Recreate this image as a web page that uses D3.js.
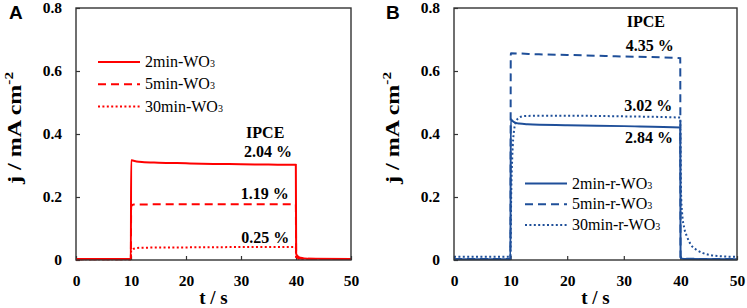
<!DOCTYPE html>
<html><head><meta charset="utf-8">
<script src="https://cdn.jsdelivr.net/npm/d3@7"></script>
<style>
html,body{margin:0;padding:0;background:#fff;}
svg{display:block;}
</style></head>
<body>
<svg id="chart" width="747" height="308"></svg>
<script>
// ---------- data ----------
const xTicks = [0, 10, 20, 30, 40, 50];
const yTicks = [0, 0.2, 0.4, 0.6, 0.8];

// Panel A (WO3)
const tA2  = [0, 9.97, 10.03, 10.5, 11, 12, 15, 20, 25, 30, 35, 39.97, 40.03, 40.3, 40.8, 41.5, 43, 50];
const jA2  = [0.003, 0.003, 0.317, 0.315, 0.313, 0.311, 0.309, 0.307, 0.305, 0.304, 0.303, 0.302, 0.02, 0.012, 0.007, 0.005, 0.004, 0.003];
const tA5  = [0, 9.97, 10.03, 10.5, 20, 30, 39.97, 40.03, 40.5, 41, 50];
const jA5  = [0.002, 0.002, 0.17, 0.176, 0.177, 0.177, 0.177, 0.01, 0.006, 0.004, 0.003];
const tA30 = [0, 9.97, 10.03, 10.5, 12, 20, 30, 39.97, 40.03, 41, 50];
const jA30 = [0.002, 0.002, 0.03, 0.036, 0.039, 0.04, 0.041, 0.041, 0.004, 0.003, 0.003];

// Panel B (r-WO3)
const tB2  = [0, 9.97, 10.03, 10.3, 10.8, 11.5, 13, 20, 30, 39.97, 40.03, 40.3, 41, 50];
const jB2  = [0.002, 0.002, 0.447, 0.442, 0.436, 0.433, 0.431, 0.428, 0.425, 0.421, 0.01, 0.004, 0.003, 0.002];
const tB5  = [0, 9.97, 10.03, 15, 20, 30, 39.97, 40.03, 40.5, 50];
const jB5  = [0.003, 0.003, 0.656, 0.653, 0.651, 0.646, 0.641, 0.008, 0.004, 0.003];
const tB30 = [0, 9.97, 10.1, 10.3, 10.6, 11, 11.5, 12.5, 15, 20, 30, 39.97, 40.1, 40.3, 40.7, 41.2, 41.8, 42.9, 44, 45.2, 47, 50];
const jB30 = [0.01, 0.01, 0.2, 0.33, 0.41, 0.44, 0.452, 0.457, 0.458, 0.458, 0.456, 0.452, 0.22, 0.15, 0.1, 0.073, 0.05, 0.032, 0.022, 0.016, 0.012, 0.01];

const legendA = ["2min-", "5min-", "30min-"];
const legendB = ["2min-r-", "5min-r-", "30min-r-"];
const ipceA = ["2.04 %", "1.19 %", "0.25 %"];
const ipceB = ["4.35 %", "3.02 %", "2.84 %"];

// ---------- drawing ----------
const svg = d3.select("#chart");
const SERIF = "'Liberation Serif','Times New Roman',serif";
const SANS = "'Liberation Sans',Arial,sans-serif";
const dashes = [null, "8,5", "2,2.4"];

function panel(cfg) {
  const x = d3.scaleLinear().domain([0, 50]).range([cfg.left, cfg.right]);
  const y = d3.scaleLinear().domain([0, 0.8]).range([260, 8]);
  const g = svg.append("g");

  // axes
  const ax = g.append("g").attr("transform", `translate(0,${y(0)})`)
    .call(d3.axisBottom(x).tickValues(xTicks).tickSize(-4).tickPadding(15).tickFormat(d3.format("d")));
  const ay = g.append("g").attr("transform", `translate(${x(0)},0)`)
    .call(d3.axisLeft(y).tickValues(yTicks).tickSize(-4).tickPadding(14).tickFormat(d => d === 0 ? "0" : d3.format(".1f")(d)));
  [ax, ay].forEach(a => {
    a.attr("font-family", SERIF).attr("font-size", 15).attr("font-weight", "bold");
    a.select(".domain").remove();
    a.selectAll("line").attr("stroke", "#333").attr("stroke-width", 1.2);
    a.selectAll("text").attr("font-family", SERIF).attr("font-weight", "bold")
      .attr("font-size", 15.5).attr("fill", "#000");
  });

  // series
  const line = d3.line().x(d => x(d[0])).y(d => y(d[1])).curve(d3.curveMonotoneX);
  cfg.series.forEach((s, i) => {
    const pts = s.t.map((t, k) => [t, s.j[k]]);
    g.append("path").datum(pts).attr("d", line)
      .attr("fill", "none").attr("stroke", cfg.color).attr("stroke-width", 2)
      .attr("stroke-dasharray", dashes[i]);
  });

  // frame
  g.append("rect").attr("x", x(0)).attr("y", y(0.8)).attr("width", x(50) - x(0)).attr("height", y(0) - y(0.8))
    .attr("fill", "none").attr("stroke", "#333").attr("stroke-width", 1.4);

  // legend
  cfg.legend.forEach((lbl, i) => {
    const ly = cfg.legY + i * cfg.legStep;
    g.append("line").attr("x1", cfg.legX).attr("x2", cfg.legX + 42).attr("y1", ly).attr("y2", ly)
      .attr("stroke", cfg.color).attr("stroke-width", 2).attr("stroke-dasharray", dashes[i]);
    const t = g.append("text").attr("x", cfg.legX + 47).attr("y", ly + 5)
      .attr("font-family", SERIF).attr("font-size", 16).attr("fill", "#000");
    t.append("tspan").text(lbl + "WO");
    t.append("tspan").attr("font-size", 10).text("3");
  });

  // annotations
  cfg.annots.forEach(a => {
    g.append("text").attr("x", x(a.t)).attr("y", y(a.j)).attr("text-anchor", "middle")
      .attr("font-family", SERIF).attr("font-weight", "bold").attr("font-size", 16).text(a.text);
  });

  // axis titles
  g.append("text").attr("x", (x(0) + x(50)) / 2).attr("y", 304).attr("text-anchor", "middle")
    .attr("font-family", SERIF).attr("font-weight", "bold").attr("font-size", 19).text("t / s");
  const yt = g.append("text").attr("transform", `translate(${cfg.yTitleX},128) rotate(-90)`)
    .attr("text-anchor", "middle").attr("font-family", SERIF).attr("font-weight", "bold").attr("font-size", 19)
    .attr("textLength", 112).attr("lengthAdjust", "spacingAndGlyphs");
  yt.append("tspan").text("j / mA cm");
  yt.append("tspan").attr("font-size", 12).attr("dy", -8).text("-2");

  // panel label
  g.append("text").attr("x", cfg.labelX).attr("y", 19).attr("font-family", SANS).attr("font-weight", "bold")
    .attr("font-size", 19).text(cfg.label);
}

panel({
  left: 76, right: 351, color: "#ff0000", label: "A", labelX: 9, yTitleX: 21,
  series: [{t: tA2, j: jA2}, {t: tA5, j: jA5}, {t: tA30, j: jA30}],
  legend: legendA, legX: 98, legY: 62, legStep: 22.3,
  annots: [
    {text: "IPCE", t: 34.4, j: 0.387},
    {text: ipceA[0], t: 34.9, j: 0.327},
    {text: ipceA[1], t: 34.3, j: 0.194},
    {text: ipceA[2], t: 34.4, j: 0.054}
  ]
});

panel({
  left: 454, right: 737, color: "#1f4f99", label: "B", labelX: 386, yTitleX: 399,
  series: [{t: tB2, j: jB2}, {t: tB5, j: jB5}, {t: tB30, j: jB30}],
  legend: legendB, legX: 525, legY: 183.5, legStep: 20.7,
  annots: [
    {text: "IPCE", t: 33.9, j: 0.74},
    {text: ipceB[0], t: 34.6, j: 0.663},
    {text: ipceB[1], t: 34.3, j: 0.473},
    {text: ipceB[2], t: 34.45, j: 0.371}
  ]
});
</script>
</body></html>
